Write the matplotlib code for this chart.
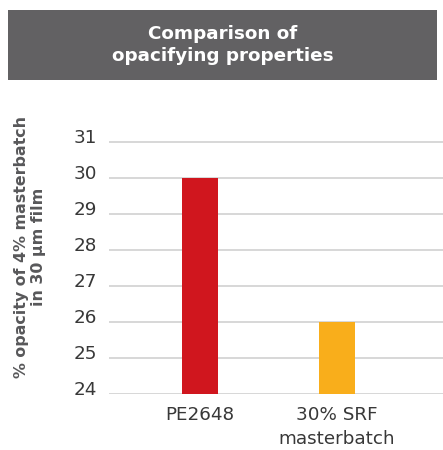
import matplotlib
matplotlib.use("Agg")
import matplotlib.pyplot as plt
from matplotlib.patches import Rectangle
from matplotlib.transforms import ScaledTranslation

categories = ["PE2648", "30% SRF\nmasterbatch"]
values = [30, 26]
colors = ["#d0161e", "#f9ae1b"]
yticks = [24, 25, 26, 27, 28, 29, 30, 31]
title = "Comparison of\nopacifying properties"
ylabel = "% opacity of 4% masterbatch\nin 30 µm film"

plt.rcParams['font.family'] = ['DejaVu Sans']

W, H = 443, 450
fig = plt.figure(figsize=(W / 100, H / 100), dpi=100)

# title bar
fig.patches.append(Rectangle((8 / W, 1 - 80 / H), (437 - 8) / W, 70 / H,
                             transform=fig.transFigure, facecolor="#626163",
                             edgecolor="none"))
fig.text((8 + 437) / 2 / W, 1 - 45 / H, title, color="white", fontsize=13.2,
         fontweight="bold", ha="center", va="center", linespacing=1.25)

ax = fig.add_axes([109 / W, 56 / H, (W - 109) / W, (394 - 135) / H])
x = list(range(len(categories)))
ax.bar(x, values, width=0.263, color=colors, zorder=3)
ax.set_xlim(-0.664, 1.774)
ax.set_ylim(24, 31.2)
ax.set_yticks(yticks)
ax.set_yticklabels([str(t) for t in yticks])
ax.set_xticks(x)
ax.set_xticklabels(categories, linespacing=1.4)
ax.grid(axis="y", color="#d4d4d4", linewidth=1.3, zorder=0)
ax.set_axisbelow(True)
for s in ax.spines.values():
    s.set_visible(False)
ax.tick_params(axis="both", length=0, labelsize=13.2, labelcolor="#383838")
ax.tick_params(axis="y", pad=8.6)
ax.tick_params(axis="x", pad=9)
off = ScaledTranslation(0, 6 / 100, fig.dpi_scale_trans)
for lab in ax.get_yticklabels():
    lab.set_transform(lab.get_transform() + off)

fig.text(30 / W, 1 - 247 / H, ylabel, rotation=90, fontsize=11.4,
         fontweight="bold", color="#58585a", ha="center", va="center",
         linespacing=1.2)

fig.savefig("out.png", dpi=100)
